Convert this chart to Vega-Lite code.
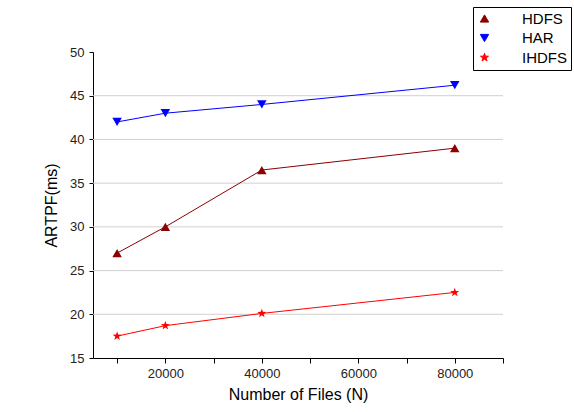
{
  "$schema": "https://vega.github.io/schema/vega-lite/v6.json",
  "width": 410,
  "height": 306,
  "autosize": {"type": "none"},
  "padding": {"left": 93, "top": 52, "right": 71, "bottom": 54},
  "background": "white",
  "config": {
    "view": {"stroke": null},
    "font": "Liberation Sans",
    "axis": {"labelFont": "Liberation Sans", "titleFont": "Liberation Sans"}
  },
  "data": {
    "values": [
      {"files": 10000, "artpf": 27.0, "series": "HDFS"},
      {"files": 20000, "artpf": 30.0, "series": "HDFS"},
      {"files": 40000, "artpf": 36.5, "series": "HDFS"},
      {"files": 80000, "artpf": 39.0, "series": "HDFS"},
      {"files": 10000, "artpf": 42.0, "series": "HAR"},
      {"files": 20000, "artpf": 43.0, "series": "HAR"},
      {"files": 40000, "artpf": 44.0, "series": "HAR"},
      {"files": 80000, "artpf": 46.2, "series": "HAR"},
      {"files": 10000, "artpf": 17.5, "series": "IHDFS"},
      {"files": 20000, "artpf": 18.7, "series": "IHDFS"},
      {"files": 40000, "artpf": 20.1, "series": "IHDFS"},
      {"files": 80000, "artpf": 22.5, "series": "IHDFS"}
    ]
  },
  "layer": [
    {
      "mark": {"type": "rule", "color": "#d0d0d0", "strokeWidth": 1},
      "data": {"values": [{"g": 20}, {"g": 25}, {"g": 30}, {"g": 35}, {"g": 40}, {"g": 45}]},
      "encoding": {"y": {"field": "g", "type": "quantitative", "scale": {"domain": [15, 50], "nice": false, "zero": false}}}
    },
    {
      "mark": {"type": "line", "strokeWidth": 1},
      "encoding": {
        "x": {"field": "files", "type": "quantitative", "scale": {"domain": [5000, 90000], "nice": false, "zero": false}, "axis": {
          "values": [10000, 20000, 30000, 40000, 50000, 60000, 70000, 80000, 90000],
          "labelExpr": "datum.value % 20000 == 0 && datum.value < 90000 ? format(datum.value, 'd') : ''",
          "grid": false, "domainColor": "#000", "tickColor": "#000", "tickSize": 5,
          "labelFontSize": 13, "labelColor": "#222", "labelPadding": 4,
          "title": "Number of Files (N)", "titleFontSize": 16, "titleFontWeight": "normal", "titleColor": "#000", "titlePadding": 6
        }},
        "y": {"field": "artpf", "type": "quantitative", "scale": {"domain": [15, 50], "nice": false, "zero": false}, "axis": {
          "values": [15, 17.5, 20, 22.5, 25, 27.5, 30, 32.5, 35, 37.5, 40, 42.5, 45, 47.5, 50],
          "labelExpr": "datum.value % 5 == 0 ? format(datum.value, 'd') : ''",
          "grid": false, "domainColor": "#000", "tickColor": "#000", "tickSize": 4,
          "labelFontSize": 13, "labelColor": "#222", "labelPadding": 5,
          "title": "ARTPF(ms)", "titleFontSize": 16, "titleFontWeight": "normal", "titleColor": "#000", "titlePadding": 10
        }},
        "color": {"field": "series", "type": "nominal",
          "scale": {"domain": ["HDFS", "HAR", "IHDFS"], "range": ["#8B0000", "#0000FF", "#FF0000"]}}
      }
    },
    {
      "mark": {"type": "point", "filled": true, "opacity": 1, "size": 90},
      "encoding": {
        "x": {"field": "files", "type": "quantitative"},
        "y": {"field": "artpf", "type": "quantitative"},
        "color": {"field": "series", "type": "nominal",
          "legend": {
            "title": null, "orient": "none", "legendX": 380, "legendY": -45,
            "strokeColor": "#000", "fillColor": "white",
            "padding": 4, "labelFontSize": 15, "labelColor": "#000", "labelFont": "Liberation Sans",
            "symbolSize": 70, "symbolStrokeWidth": 1, "labelOffset": 30, "rowPadding": 3.5
          }
        },
        "shape": {"field": "series", "type": "nominal",
          "scale": {"domain": ["HDFS", "HAR", "IHDFS"], "range": ["triangle-up", "triangle-down", "M0,-1L0.235,-0.324L0.951,-0.309L0.380,0.124L0.588,0.809L0,0.4L-0.588,0.809L-0.380,0.124L-0.951,-0.309L-0.235,-0.324Z"]}
        }
      }
    }
  ]
}
